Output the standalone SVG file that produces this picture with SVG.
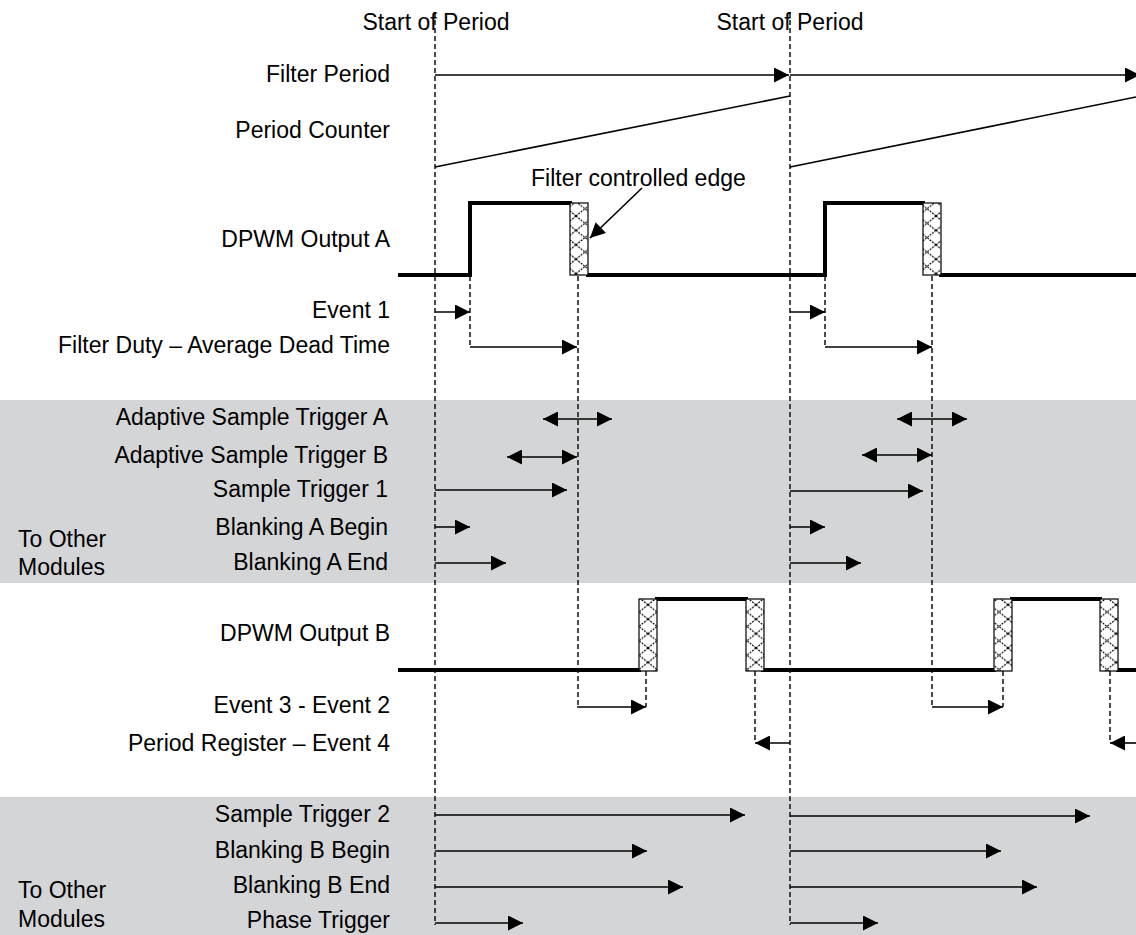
<svg xmlns="http://www.w3.org/2000/svg" width="1136" height="935" viewBox="0 0 1136 935">
<style>
text{font-family:"Liberation Sans",Arial,sans-serif;font-size:23px;fill:#000}
.r{text-anchor:end}
.m{text-anchor:middle}
.ar{stroke:#000;stroke-width:1.6;fill:none;marker-end:url(#ah)}
.da{stroke:#000;stroke-width:1.6;fill:none;marker-end:url(#ah);marker-start:url(#ahs)}
.ln{stroke:#000;stroke-width:1.6;fill:none}
.dash{stroke:#000;stroke-width:1.4;stroke-dasharray:5,3;fill:none}
.sig{stroke:#000;stroke-width:4;fill:none;stroke-linejoin:miter}
.band{fill:#d4d5d7}
.hb{fill:url(#hatch);stroke:#000;stroke-width:1.2}
</style>
<defs>
<marker id="ah" markerUnits="userSpaceOnUse" markerWidth="15" markerHeight="15" refX="15" refY="7.5" orient="auto" viewBox="0 0 15 15">
<path d="M0,0 L15,7.5 L0,15 z" fill="#000"/>
</marker>
<marker id="ahs" markerUnits="userSpaceOnUse" markerWidth="15" markerHeight="15" refX="15" refY="7.5" orient="auto-start-reverse" viewBox="0 0 15 15">
<path d="M0,0 L15,7.5 L0,15 z" fill="#000"/>
</marker>
<pattern id="hatch" patternUnits="userSpaceOnUse" width="18" height="14.4">
<rect width="18" height="14.4" fill="#fff"/>
<path d="M0,0 L18,14.4 M18,0 L0,14.4" stroke="#000" stroke-width="1.1" stroke-dasharray="2,1"/>
</pattern>
</defs>
<rect width="1136" height="935" fill="#fff"/>

<g id="bands">
<rect class="band" x="0" y="400" width="1136" height="183"/>
<rect class="band" x="0" y="797" width="1136" height="138"/>
</g>

<g id="period-markers">
<text class="m" x="436" y="30">Start of Period</text>
<text class="m" x="790" y="30">Start of Period</text>
</g>

<g id="labels">
<text class="r" x="390" y="82">Filter Period</text>
<text class="r" x="390" y="138">Period Counter</text>
<text class="r" x="390" y="247">DPWM Output A</text>
<text class="r" x="390" y="318">Event 1</text>
<text class="r" x="390" y="353">Filter Duty – Average Dead Time</text>
<text class="r" x="388" y="425">Adaptive Sample Trigger A</text>
<text class="r" x="388" y="463">Adaptive Sample Trigger B</text>
<text class="r" x="388" y="497">Sample Trigger 1</text>
<text class="r" x="388" y="535">Blanking A Begin</text>
<text class="r" x="388" y="570">Blanking A End</text>
<text x="18" y="547">To Other</text>
<text x="18" y="575">Modules</text>
<text class="r" x="390" y="641">DPWM Output B</text>
<text class="r" x="390" y="713">Event 3 - Event 2</text>
<text class="r" x="390" y="751">Period Register – Event 4</text>
<text class="r" x="390" y="822">Sample Trigger 2</text>
<text class="r" x="390" y="858">Blanking B Begin</text>
<text class="r" x="390" y="893">Blanking B End</text>
<text class="r" x="390" y="928">Phase Trigger</text>
<text x="18" y="898">To Other</text>
<text x="18" y="927">Modules</text>
</g>

<g id="guides">
<line class="dash" x1="435" y1="12" x2="435" y2="925"/>
<line class="dash" x1="790" y1="12" x2="790" y2="925"/>
<line class="dash" x1="470" y1="276" x2="470" y2="348"/>
<line class="dash" x1="578" y1="276" x2="578" y2="707"/>
<line class="dash" x1="825" y1="276" x2="825" y2="348"/>
<line class="dash" x1="932" y1="276" x2="932" y2="707"/>
<line class="dash" x1="646" y1="671" x2="646" y2="707"/>
<line class="dash" x1="1003" y1="671" x2="1003" y2="707"/>
<line class="dash" x1="755" y1="671" x2="755" y2="743"/>
<line class="dash" x1="1110" y1="671" x2="1110" y2="743"/>
</g>

<g id="period-counter">
<line class="ln" x1="435" y1="167" x2="790" y2="96"/>
<line class="ln" x1="790" y1="167" x2="1136" y2="97"/>
</g>

<g id="dpwm-a">
<path class="sig" d="M398,275 H470 V203 H572 M586,275 H825 V203 H925 M939,275 H1136"/>
<rect class="hb" x="570" y="203" width="18" height="72"/>
<rect class="hb" x="923" y="203" width="18" height="72"/>
</g>

<g id="filter-edge-note">
<text x="531" y="186">Filter controlled edge</text>
</g>

<g id="dpwm-b">
<path class="sig" d="M398,670 H641 M655,599 H748 M761,670 H996 M1010,599 H1102 M1116,670 H1136"/>
<rect class="hb" x="639" y="599" width="18" height="72"/>
<rect class="hb" x="746" y="599" width="18" height="72"/>
<rect class="hb" x="994" y="599" width="18" height="72"/>
<rect class="hb" x="1100" y="599" width="18" height="72"/>
</g>

<g id="connectors">
<line class="ar" x1="435" y1="75" x2="789" y2="75"/>
<line class="ar" x1="790" y1="75" x2="1140" y2="75"/>
<line class="ar" x1="642" y1="188" x2="590" y2="238"/>
<line class="ar" x1="435" y1="312" x2="470" y2="312"/>
<line class="ar" x1="470" y1="347" x2="577" y2="347"/>
<line class="ar" x1="790" y1="312" x2="825" y2="312"/>
<line class="ar" x1="825" y1="347" x2="932" y2="347"/>

<line class="da" x1="543" y1="419" x2="612" y2="419"/>
<line class="da" x1="507" y1="457" x2="577" y2="457"/>
<line class="ar" x1="435" y1="490" x2="567" y2="490"/>
<line class="ar" x1="435" y1="527" x2="470" y2="527"/>
<line class="ar" x1="435" y1="563" x2="506" y2="563"/>
<line class="da" x1="897" y1="419" x2="967" y2="419"/>
<line class="da" x1="862" y1="455" x2="932" y2="455"/>
<line class="ar" x1="790" y1="491" x2="923" y2="491"/>
<line class="ar" x1="790" y1="527" x2="825" y2="527"/>
<line class="ar" x1="790" y1="563" x2="861" y2="563"/>

<line class="ar" x1="577" y1="707" x2="646" y2="707"/>
<line class="ar" x1="932" y1="707" x2="1003" y2="707"/>
<line class="ar" x1="790" y1="743" x2="755" y2="743"/>
<line class="ar" x1="1140" y1="743" x2="1110" y2="743"/>

<line class="ar" x1="435" y1="815" x2="745" y2="815"/>
<line class="ar" x1="435" y1="851" x2="647" y2="851"/>
<line class="ar" x1="435" y1="887" x2="683" y2="887"/>
<line class="ar" x1="435" y1="923" x2="523" y2="923"/>
<line class="ar" x1="790" y1="816" x2="1090" y2="816"/>
<line class="ar" x1="790" y1="851" x2="1001" y2="851"/>
<line class="ar" x1="790" y1="887" x2="1037" y2="887"/>
<line class="ar" x1="790" y1="923" x2="878" y2="923"/>
</g>
</svg>
